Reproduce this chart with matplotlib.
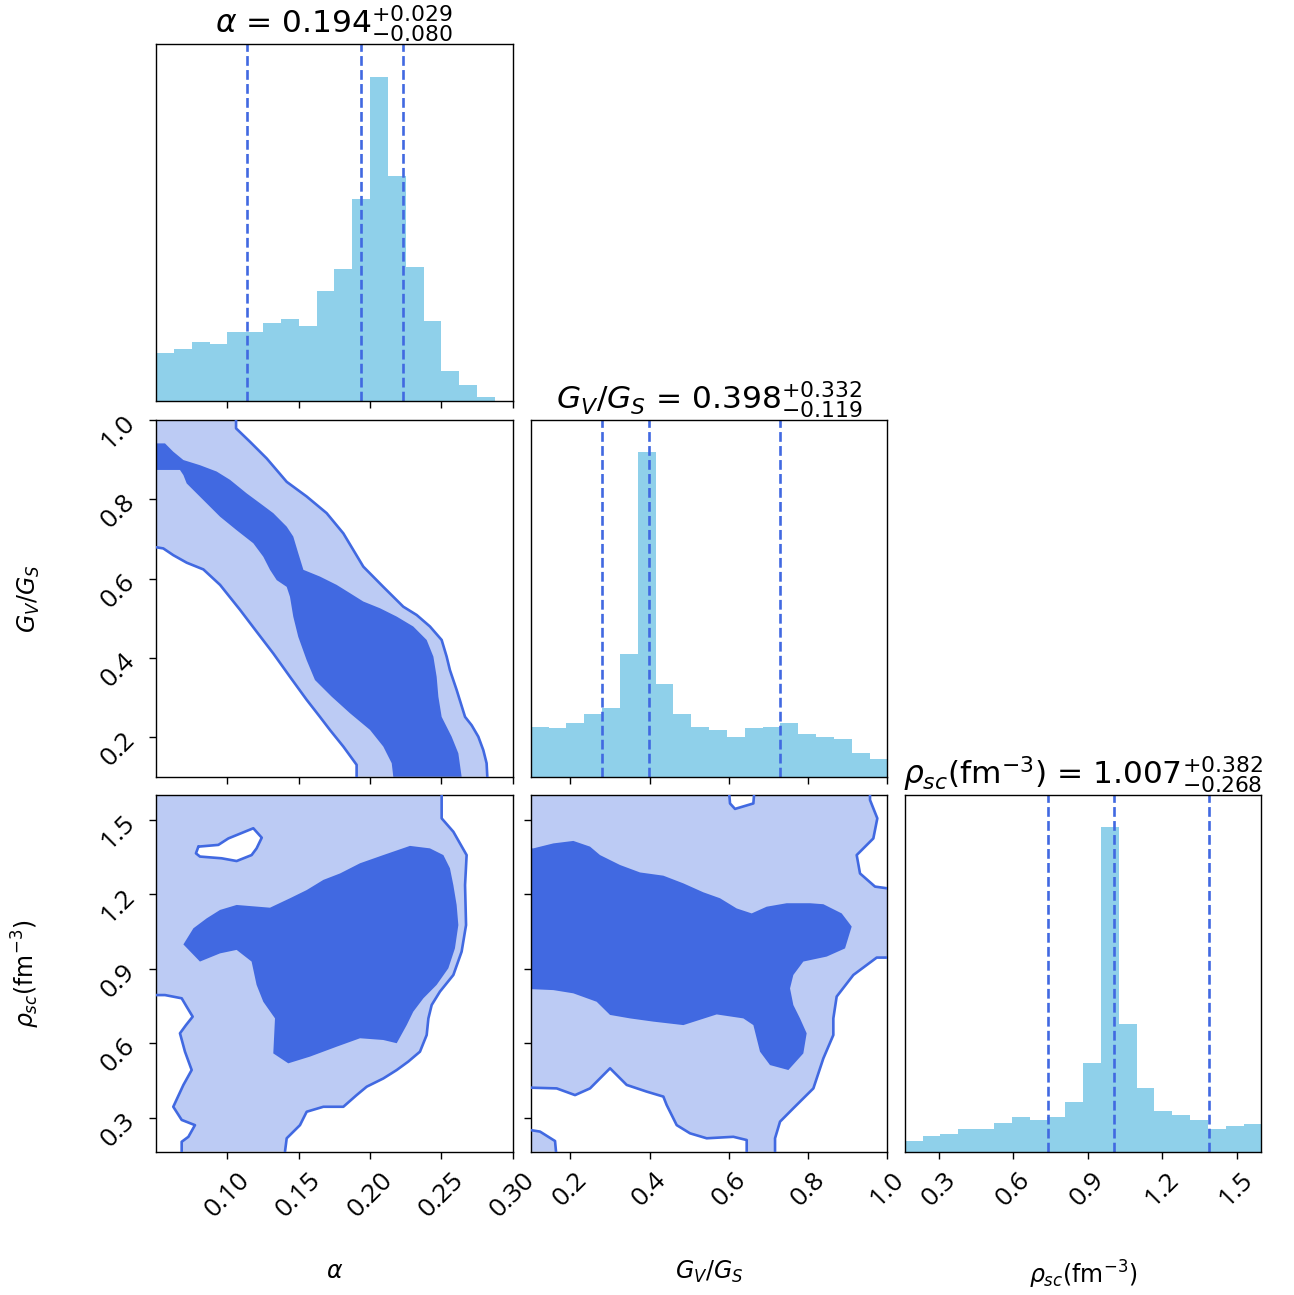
import numpy as np
import matplotlib
matplotlib.use("Agg")
import matplotlib.pyplot as plt

# ---------------- data ----------------
labels = [r"$\alpha$", r"$G_V/G_S$", r"$\rho_{sc}(\mathrm{fm}^{-3})$"]
ranges = [(0.05, 0.30), (0.10, 1.00), (0.163, 1.60)]
ticks = [[0.10, 0.15, 0.20, 0.25, 0.30], [0.2, 0.4, 0.6, 0.8, 1.0], [0.3, 0.6, 0.9, 1.2, 1.5]]
ticklabels = [["0.10", "0.15", "0.20", "0.25", "0.30"],
              ["0.2", "0.4", "0.6", "0.8", "1.0"],
              ["0.3", "0.6", "0.9", "1.2", "1.5"]]
medians = [0.194, 0.398, 1.007]
err_plus = [0.029, 0.332, 0.382]
err_minus = [0.080, 0.119, 0.268]

alpha_counts = [145, 155, 177, 171, 208, 208, 235, 245, 225, 331, 395, 605, 973, 675, 401, 241, 91, 47, 11, 0]
g_counts = [150, 145, 161, 188, 208, 370, 975, 278, 188, 150, 140, 118, 145, 150, 161, 128, 118, 113, 70, 53]
rho_counts = [32, 47, 52, 67, 67, 85, 105, 95, 105, 148, 265, 972, 383, 190, 122, 110, 95, 67, 78, 83]

# --- contour outlines (alpha vs G_V/G_S) ---
ag_outer_upper = [(0.1061, 1.0), (0.1061, 0.979), (0.1159, 0.945), (0.1276, 0.903), (0.1416, 0.844),
                  (0.1556, 0.807), (0.1696, 0.765), (0.1813, 0.714), (0.1883, 0.672), (0.1953, 0.630),
                  (0.2093, 0.579), (0.2233, 0.529), (0.2327, 0.508), (0.2420, 0.479), (0.2502, 0.445),
                  (0.2537, 0.403), (0.2560, 0.369), (0.2607, 0.319), (0.2666, 0.251), (0.2712, 0.230),
                  (0.2759, 0.201), (0.2794, 0.167), (0.2817, 0.134), (0.2822, 0.100)]
ag_outer_lower = [(0.1906, 0.100), (0.1906, 0.130), (0.1813, 0.176), (0.1719, 0.218), (0.1649, 0.251),
                  (0.1556, 0.294), (0.1439, 0.352), (0.1322, 0.411), (0.1205, 0.466), (0.1089, 0.521),
                  (0.0949, 0.584), (0.0832, 0.623), (0.0715, 0.640), (0.0621, 0.659), (0.0551, 0.676),
                  (0.050, 0.679)]
ag_outer_corner = [(0.05, 1.0)]
ag_inner = [(0.05, 0.941), (0.0563, 0.941), (0.0621, 0.920), (0.0692, 0.899), (0.0808, 0.886),
            (0.0925, 0.870), (0.1019, 0.849), (0.1135, 0.815), (0.1229, 0.790), (0.1322, 0.765),
            (0.1416, 0.731), (0.1462, 0.706), (0.1497, 0.664), (0.1533, 0.622), (0.1649, 0.605),
            (0.1766, 0.584), (0.1860, 0.563), (0.1953, 0.542), (0.2070, 0.525), (0.2187, 0.504),
            (0.2303, 0.479), (0.2397, 0.445), (0.2444, 0.403), (0.2467, 0.352), (0.2479, 0.302),
            (0.2502, 0.251), (0.2572, 0.201), (0.2619, 0.159), (0.2642, 0.100), (0.2163, 0.100),
            (0.2152, 0.134), (0.2093, 0.176), (0.2000, 0.218), (0.1860, 0.260), (0.1731, 0.302),
            (0.1614, 0.344), (0.1556, 0.394), (0.1497, 0.453), (0.1462, 0.504), (0.1439, 0.554),
            (0.1416, 0.579), (0.1346, 0.596), (0.1299, 0.622), (0.1252, 0.655), (0.1182, 0.689),
            (0.1065, 0.722), (0.0949, 0.756), (0.0832, 0.798), (0.0715, 0.840), (0.0692, 0.861),
            (0.0668, 0.874), (0.05, 0.874)]

# --- contour outlines (alpha vs rho_sc) ---
ar_outer_right = [(0.2502, 1.60), (0.2502, 1.506), (0.2584, 1.452), (0.2677, 1.358), (0.2666, 1.237),
                  (0.2673, 1.076), (0.2642, 0.969), (0.2584, 0.875), (0.2490, 0.808), (0.2432, 0.754),
                  (0.2409, 0.700), (0.2397, 0.633), (0.2350, 0.566), (0.2268, 0.526), (0.2187, 0.492),
                  (0.2093, 0.458), (0.1977, 0.425), (0.1906, 0.391), (0.1813, 0.344), (0.1673, 0.344),
                  (0.1556, 0.324), (0.1509, 0.270), (0.1416, 0.217), (0.1404, 0.163)]
ar_outer_left = [(0.0680, 0.163), (0.0680, 0.203), (0.0727, 0.223), (0.0773, 0.270), (0.0680, 0.291),
                 (0.0621, 0.344), (0.0692, 0.432), (0.0750, 0.492), (0.0703, 0.566), (0.0668, 0.640),
                 (0.0710, 0.673), (0.0757, 0.707), (0.0715, 0.747), (0.0680, 0.781), (0.0563, 0.794),
                 (0.05, 0.794)]
ar_outer_corner = [(0.05, 1.60)]
ar_hole = [(0.0797, 1.392), (0.0937, 1.399), (0.1007, 1.425), (0.1182, 1.466), (0.1241, 1.428),
           (0.1205, 1.385), (0.1170, 1.358), (0.1065, 1.334), (0.0960, 1.345), (0.0808, 1.352),
           (0.0780, 1.365), (0.0797, 1.392)]
ar_inner = [(0.0692, 0.998), (0.0762, 1.063), (0.0855, 1.103), (0.0949, 1.137), (0.1065, 1.157),
            (0.1299, 1.146), (0.1439, 1.184), (0.1556, 1.217), (0.1673, 1.258), (0.1790, 1.284),
            (0.1930, 1.325), (0.2093, 1.358), (0.2280, 1.395), (0.2420, 1.385), (0.2514, 1.358),
            (0.2560, 1.305), (0.2584, 1.237), (0.2607, 1.157), (0.2619, 1.076), (0.2595, 0.982),
            (0.2549, 0.902), (0.2467, 0.835), (0.2374, 0.781), (0.2303, 0.727), (0.2257, 0.673),
            (0.2187, 0.600), (0.2093, 0.613), (0.1930, 0.620), (0.1766, 0.586), (0.1579, 0.546),
            (0.1427, 0.519), (0.1322, 0.559), (0.1334, 0.700), (0.1252, 0.767), (0.1205, 0.835),
            (0.1170, 0.929), (0.1065, 0.976), (0.0949, 0.962), (0.0808, 0.929)]

# --- contour outlines (G_V/G_S vs rho_sc) ---
gr_notch = [(0.6012, 1.60), (0.6029, 1.566), (0.6155, 1.544), (0.6618, 1.566), (0.6635, 1.60)]
gr_right_top = [(0.9561, 1.60), (0.9561, 1.580), (0.9746, 1.506), (0.9645, 1.425), (0.9225, 1.358),
                (0.9309, 1.284), (0.9687, 1.231), (1.0, 1.224)]
gr_right_bottom = [(1.0, 0.945), (0.9730, 0.945), (0.9141, 0.875), (0.8720, 0.788), (0.8636, 0.700),
                   (0.8636, 0.633), (0.8384, 0.539), (0.8132, 0.418), (0.7627, 0.338), (0.7291, 0.284),
                   (0.7165, 0.217), (0.7165, 0.163)]
gr_bottom = [(0.6450, 0.163), (0.6450, 0.210), (0.6113, 0.223), (0.5440, 0.217), (0.5020, 0.237),
             (0.4684, 0.270), (0.4431, 0.351), (0.4347, 0.385), (0.3927, 0.405), (0.3422, 0.432),
             (0.3002, 0.499), (0.2497, 0.418), (0.2119, 0.391), (0.1656, 0.418), (0.100, 0.421)]
gr_corner_tl = [(0.100, 1.60)]
gr_small = [(0.100, 0.250), (0.1235, 0.244), (0.1614, 0.206), (0.1639, 0.163)]
gr_small_corner = [(0.100, 0.163)]
gr_inner = [(0.100, 1.385), (0.1067, 1.385), (0.1572, 1.405), (0.2076, 1.415), (0.2497, 1.392),
            (0.2749, 1.358), (0.3254, 1.318), (0.3758, 1.288), (0.4347, 1.275), (0.4852, 1.244),
            (0.5356, 1.208), (0.5777, 1.184), (0.6197, 1.143), (0.6576, 1.123), (0.6954, 1.150),
            (0.7459, 1.164), (0.8048, 1.164), (0.8384, 1.160), (0.8847, 1.123), (0.9099, 1.070),
            (0.8931, 0.982), (0.8468, 0.949), (0.7879, 0.929), (0.7627, 0.875), (0.7543, 0.821),
            (0.7627, 0.754), (0.7795, 0.700), (0.7963, 0.640), (0.7879, 0.559), (0.7501, 0.492),
            (0.7038, 0.512), (0.6786, 0.566), (0.6618, 0.673), (0.6366, 0.700), (0.5693, 0.716),
            (0.4852, 0.673), (0.4095, 0.687), (0.3506, 0.700), (0.3002, 0.714), (0.2665, 0.767),
            (0.2076, 0.801), (0.1572, 0.814), (0.100, 0.818)]

# ---------------- style ----------------
HIST = "#8fd0ea"
LINE = "#4169e1"
DARK = "#4169e1"
LIGHT = "#bccbf4"
TICKFONT = "Open Sans"
TICKSIZE = 19

fig = plt.figure(figsize=(12.94, 12.95), dpi=100)
col_left = [0.12056, 0.41012, 0.69915]
row_bottom = [0.69035, 0.40023, 0.11066]
W, H = 0.27566, 0.27544

axes = {}
for r in range(3):
    for c in range(r + 1):
        axes[(r, c)] = fig.add_axes([col_left[c], row_bottom[r], W, H])


def style_ticks(ax, xi, yi, xlab, ylab):
    ax.tick_params(direction="out", length=5, width=1.0, pad=6.5)
    ax.set_xticks(ticks[xi])
    if xlab:
        ax.set_xticklabels(ticklabels[xi], rotation=45, fontsize=TICKSIZE, family=TICKFONT)
    else:
        ax.set_xticklabels([])
    if yi is None:
        ax.set_yticks([])
    else:
        ax.set_yticks(ticks[yi])
        if ylab:
            ax.set_yticklabels(ticklabels[yi], rotation=45, fontsize=TICKSIZE, family=TICKFONT)
        else:
            ax.set_yticklabels([])
    for s in ax.spines.values():
        s.set_linewidth(1.0)


def poly(ax, pts, color, z):
    xs, ys = zip(*pts)
    ax.fill(xs, ys, color=color, lw=0, zorder=z)


def line(ax, pts):
    xs, ys = zip(*pts)
    ax.plot(xs, ys, color=LINE, lw=1.9, zorder=5, solid_capstyle="round", solid_joinstyle="round")


# diagonal histograms
counts = [alpha_counts, g_counts, rho_counts]
for i in range(3):
    ax = axes[(i, i)]
    lo, hi = ranges[i]
    edges = np.linspace(lo, hi, len(counts[i]) + 1)
    ax.stairs(counts[i], edges, fill=True, color=HIST, lw=0)
    for q in (medians[i] - err_minus[i], medians[i], medians[i] + err_plus[i]):
        ax.axvline(q, ls=(0, (3.7, 1.6)), color=LINE, lw=1.9)
    ax.set_xlim(lo, hi)
    ax.set_ylim(0, 1.1 * max(counts[i]))
    style_ticks(ax, i, None, i == 2, False)
    title = "{0} = ${1:.3f}_{{-{2:.3f}}}^{{+{3:.3f}}}$".format(labels[i], medians[i], err_minus[i], err_plus[i])
    ax.set_title(title, fontsize=22.5, pad=6)

# alpha vs G
ax = axes[(1, 0)]
poly(ax, ag_outer_upper + ag_outer_lower + ag_outer_corner, LIGHT, 1)
poly(ax, ag_inner, DARK, 2)
line(ax, ag_outer_upper)
line(ax, ag_outer_lower)
ax.set_xlim(*ranges[0]); ax.set_ylim(*ranges[1])
style_ticks(ax, 0, 1, False, True)

# alpha vs rho
ax = axes[(2, 0)]
poly(ax, ar_outer_corner + ar_outer_right + ar_outer_left, LIGHT, 1)
poly(ax, ar_hole, "white", 1.5)
poly(ax, ar_inner, DARK, 2)
line(ax, ar_outer_right)
line(ax, ar_outer_left)
line(ax, ar_hole)
ax.set_xlim(*ranges[0]); ax.set_ylim(*ranges[2])
style_ticks(ax, 0, 2, True, True)

# G vs rho
ax = axes[(2, 1)]
poly(ax, gr_corner_tl + gr_notch + gr_right_top + gr_right_bottom + gr_bottom, LIGHT, 1)
poly(ax, gr_small + gr_small_corner, LIGHT, 1)
poly(ax, gr_inner, DARK, 2)
for seg in (gr_notch, gr_right_top, gr_right_bottom, gr_bottom, gr_small):
    line(ax, seg)
ax.set_xlim(*ranges[1]); ax.set_ylim(*ranges[2])
style_ticks(ax, 1, 2, True, False)

# axis labels
for c in range(3):
    ax = axes[(2, c)]
    ax.set_xlabel(labels[c], fontsize=17)
    ax.xaxis.set_label_coords(0.5, -0.3)
for r in (1, 2):
    ax = axes[(r, 0)]
    ax.set_ylabel(labels[r], fontsize=17)
    ax.yaxis.set_label_coords(-0.32, 0.5)

fig.savefig("out.png", dpi=100)
